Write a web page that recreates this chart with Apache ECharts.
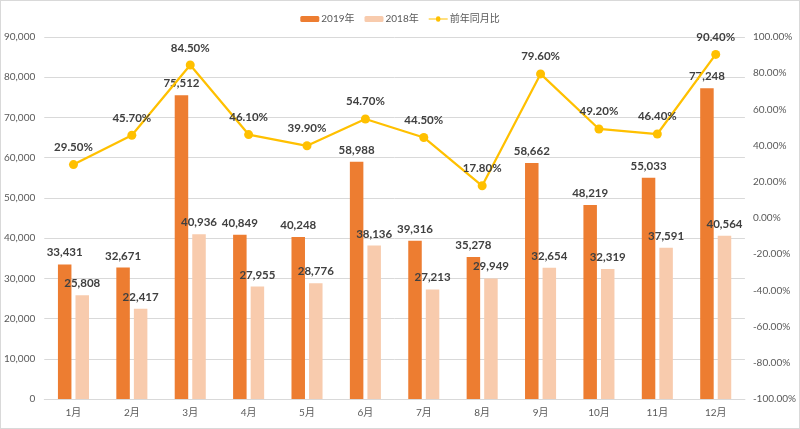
<!DOCTYPE html>
<html><head><meta charset="utf-8">
<script src="https://cdn.jsdelivr.net/npm/echarts@6/dist/echarts.min.js"></script>
<style>html,body{margin:0;padding:0;background:#fff}#c{width:798px;height:427px;border:1px solid #D9D9D9}</style>
</head><body><div id="c"></div>
<script>
const categories = ['1月','2月','3月','4月','5月','6月','7月','8月','9月','10月','11月','12月'];
const sales2019 = [33431, 32671, 75512, 40849, 40248, 58988, 39316, 35278, 58662, 48219, 55033, 77248];
const sales2018 = [25808, 22417, 40936, 27955, 28776, 38136, 27213, 29949, 32654, 32319, 37591, 40564];
const yoy = [29.5, 45.7, 84.5, 46.1, 39.9, 54.7, 44.5, 17.8, 79.6, 49.2, 46.4, 90.4];
const leftTicks = [0, 90000, 10000];
const rightTicks = [-100, 100, 20];

const font = 'Lato, "Noto Sans CJK SC", sans-serif';
const chart = echarts.init(document.getElementById('c'));
const fmt = v => v.toLocaleString('en-US');
const lbl = {show:true, position:'top', color:'#404040', fontWeight:'bold', fontSize:11.5, fontFamily:font, distance:6};
chart.setOption({
  animation:false,
  textStyle:{fontFamily:font},
  legend:{top:8, left:'center', itemWidth:19, itemHeight:6, itemGap:10,
    textStyle:{color:'#595959', fontSize:10, fontFamily:font, padding:[0,0,0,-3]},
    data:['2019年','2018年',{name:'前年同月比', icon:'path://M0,2.5L8,2.5A2.5,2.5 0 1 1 13,2.5L21,2.5L21,3.5L13,3.5A2.5,2.5 0 1 1 8,3.5L0,3.5Z'}]},
  grid:{left:43, right:50, top:36, bottom:29, containLabel:false},
  xAxis:{type:'category', data:categories,
    axisLine:{lineStyle:{color:'#D9D9D9'}}, axisTick:{show:false},
    axisLabel:{color:'#595959', fontSize:10, margin:9}},
  yAxis:[
    {type:'value', min:leftTicks[0], max:leftTicks[1], interval:leftTicks[2],
      axisLabel:{color:'#595959', fontSize:10, formatter:v=>fmt(v), margin:9},
      splitLine:{lineStyle:{color:'#D9D9D9'}}, axisLine:{show:false}, axisTick:{show:false}},
    {type:'value', min:rightTicks[0], max:rightTicks[1], interval:rightTicks[2],
      axisLabel:{color:'#595959', fontSize:10, formatter:v=>v.toFixed(2)+'%', margin:8},
      splitLine:{show:false}, axisLine:{show:false}, axisTick:{show:false}}
  ],
  series:[
    {name:'2019年', type:'bar', data:sales2019, barWidth:13.5, barGap:'30%',
      itemStyle:{color:'#ED7D31'}, label:Object.assign({}, lbl, {formatter:p=>fmt(p.value)})},
    {name:'2018年', type:'bar', data:sales2018, barWidth:13.5,
      itemStyle:{color:'#F8CBAD'}, label:Object.assign({}, lbl, {formatter:p=>fmt(p.value)})},
    {name:'前年同月比', type:'line', yAxisIndex:1, data:yoy, symbol:'circle', symbolSize:9,
      lineStyle:{color:'#FFC000', width:2.25}, itemStyle:{color:'#FFC000'},
      label:Object.assign({}, lbl, {formatter:p=>p.value.toFixed(2)+'%', distance:7})}
  ]
});
</script></body></html>
